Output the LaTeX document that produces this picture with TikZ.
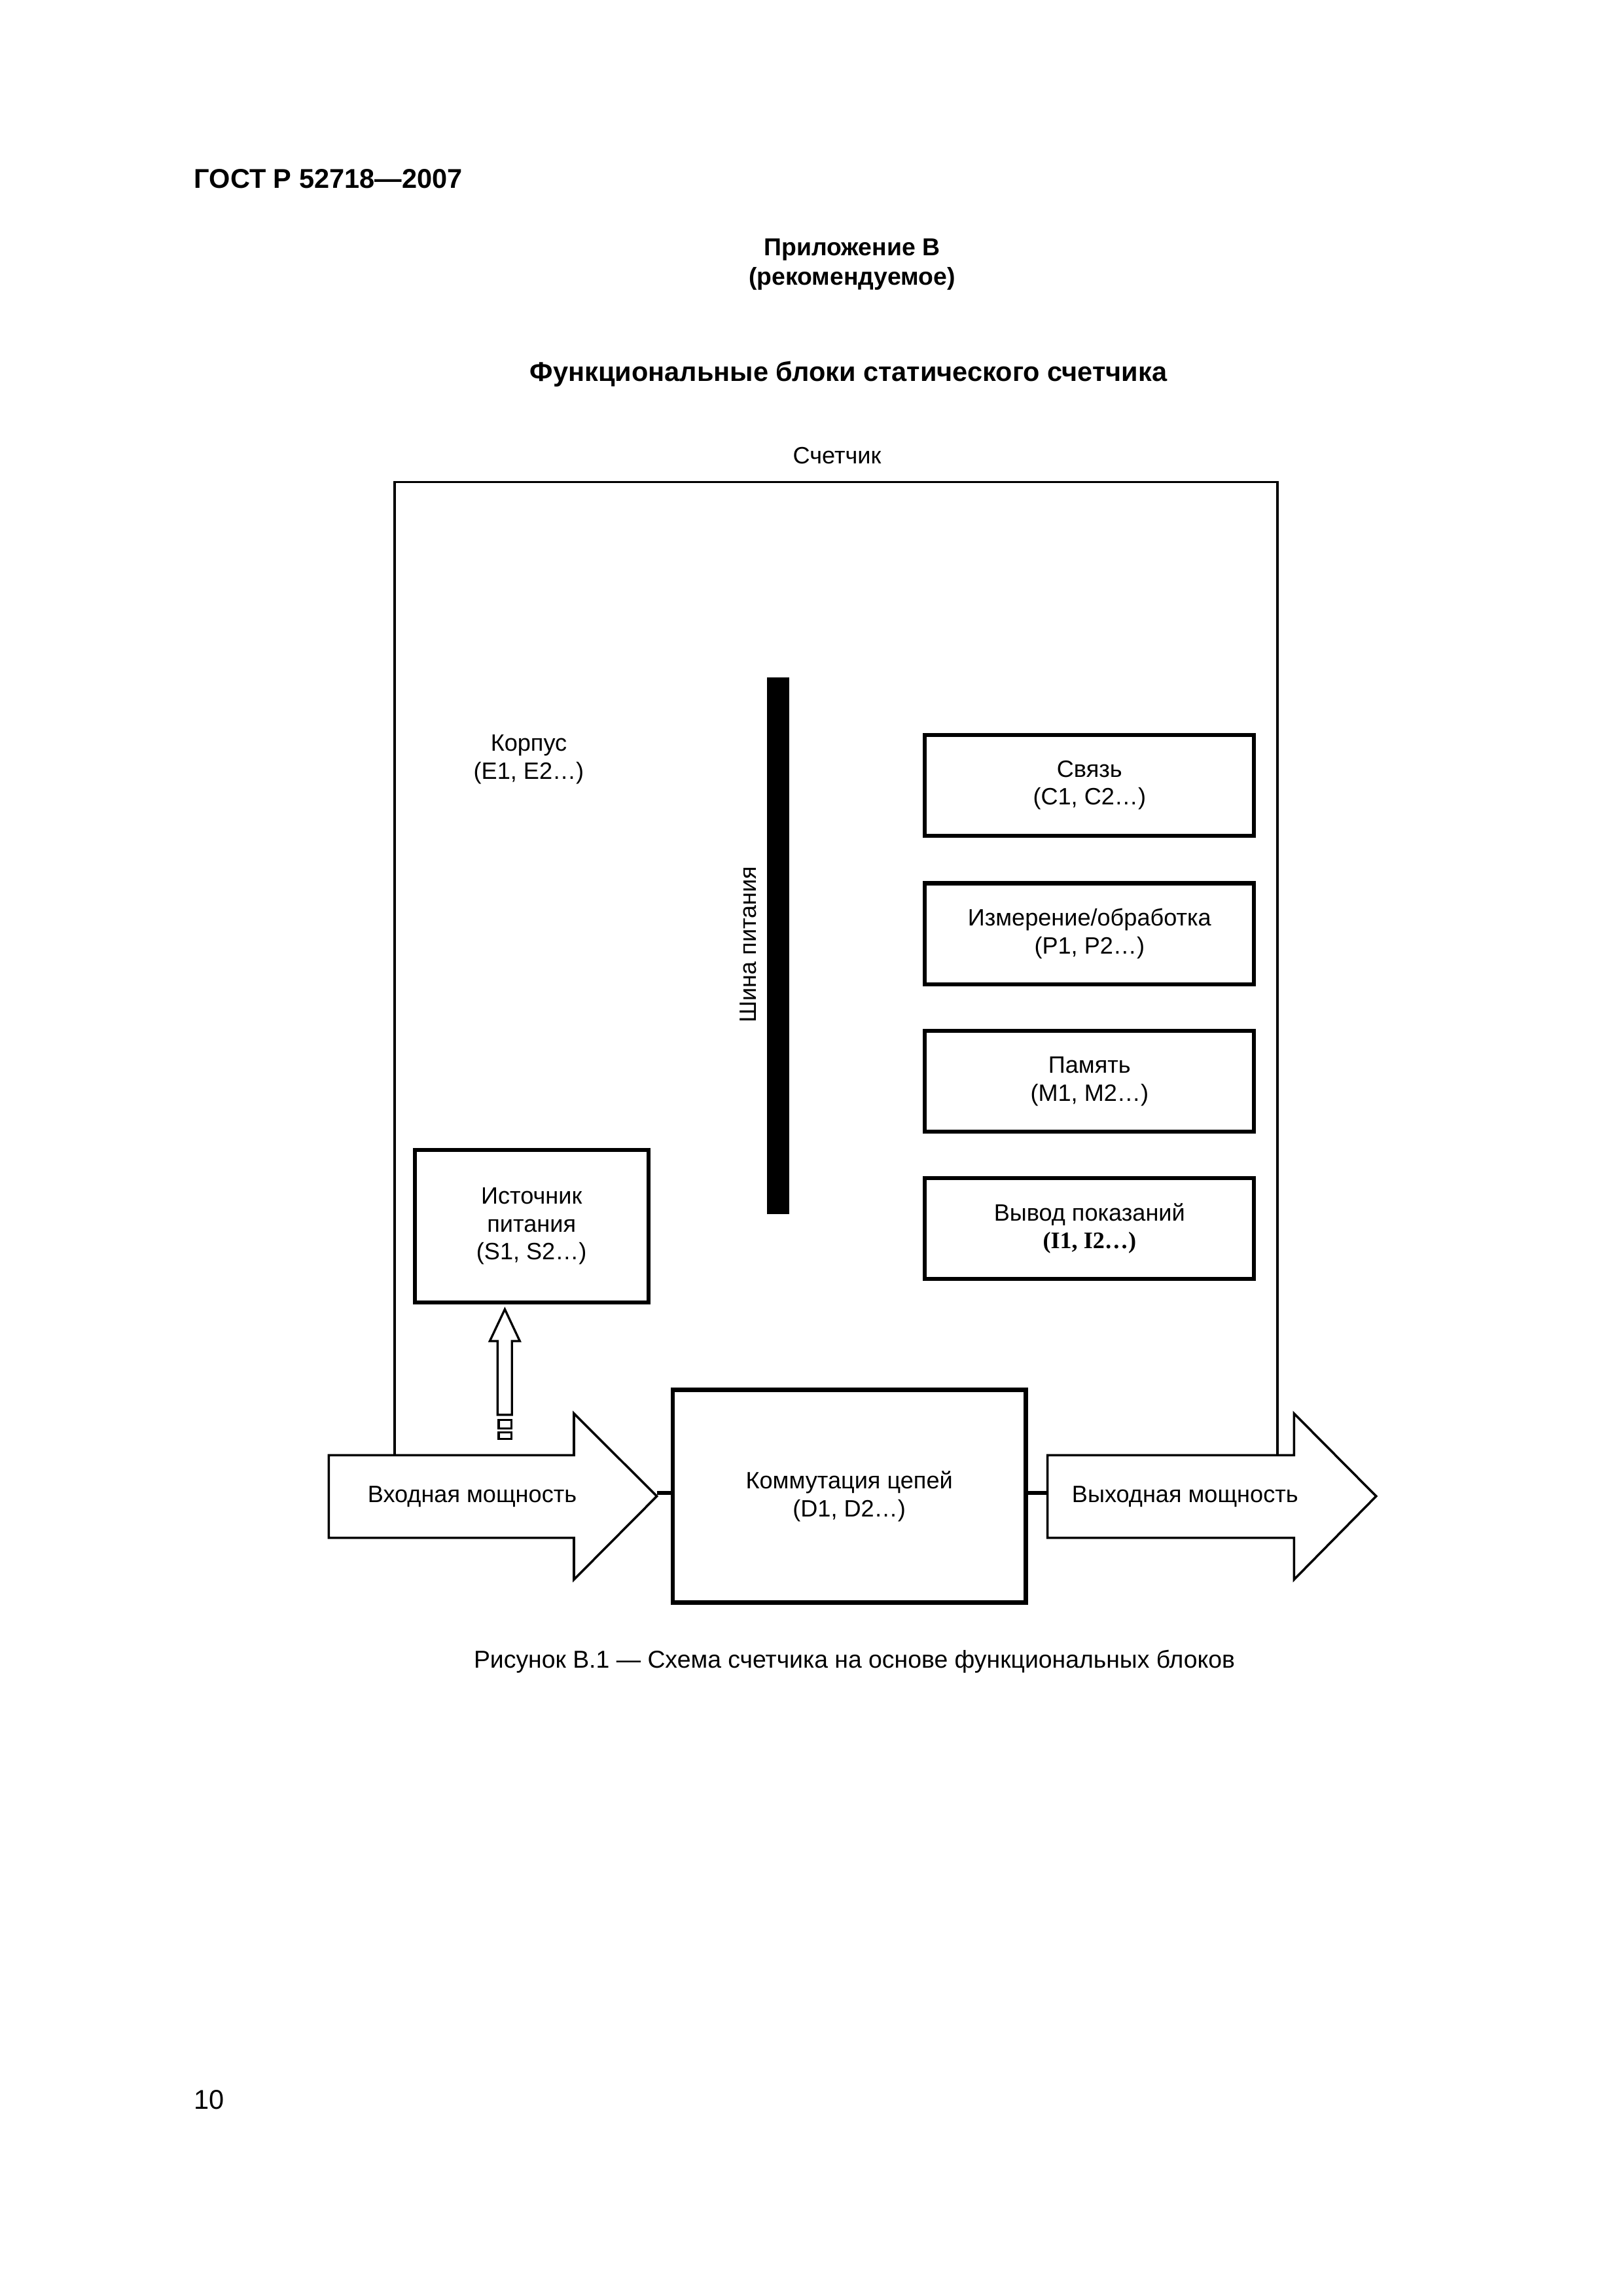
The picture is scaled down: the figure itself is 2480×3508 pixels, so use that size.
\documentclass[tikz,border=0pt]{standalone}
\usepackage{fontspec}
\setmainfont{Liberation Sans}
\newfontfamily\seriffont{Liberation Serif}
\begin{document}
\begin{tikzpicture}[x=0.084677mm,y=-0.084677mm,
  lbl/.style={font=\fontsize{8.7}{10.3}\selectfont, align=center, inner sep=0pt},
  blk/.style={draw, line width=1.45pt, align=center, inner sep=0pt, fill=white,
              font=\fontsize{8.7}{10.3}\selectfont},
  rblk/.style={blk, minimum width=42.61mm, minimum height=13.06mm},
  thin/.style={line width=0.8pt},
  stub/.style={line width=1.5pt},
  bigarrow/.style={draw, line width=0.85pt, fill=white, line join=miter}]
\useasboundingbox (0,0) rectangle (2480,3508);

% header texts
\node[anchor=base west, inner sep=0pt, font=\bfseries\fontsize{10}{12}\selectfont] (hdr) at (296,287) {ГОСТ Р 52718—2007};
\node[anchor=base, inner sep=0pt, font=\bfseries\fontsize{9}{11}\selectfont] (app) at (1302,390) {Приложение В};
\node[anchor=base, inner sep=0pt, font=\bfseries\fontsize{9}{11}\selectfont] (rec) at (1302,435) {(рекомендуемое)};
\node[anchor=base, inner sep=0pt, font=\bfseries\fontsize{10}{12}\selectfont] (ttl) at (1296.5,582) {Функциональные блоки статического счетчика};
\node[anchor=base, lbl] (meter) at (1279,708.6) {Счетчик};

% outer frame of the meter
\coordinate (fl) at (603,2223.3);
\coordinate (fr) at (1952,2223.3);
\draw[thin] (fl) -- (603,736.5) -- (1952,736.5) -- (fr);

% case label
\node[lbl] (case) at (808,1160) {Корпус\\(E1, E2…)};

% power bus
\node[fill=black, inner sep=0pt, minimum width=2.87mm, minimum height=69.43mm] (bus) at (1189,1445) {};
\node[lbl, rotate=90] (buslbl) at (1143,1443) {Шина питания};

% right blocks
\node[rblk] (comm) at (1664.8,1199.7) {Связь\\(C1, C2…)};
\node[rblk] (meas) at (1664.8,1426.6) {Измерение/обработка\\(P1, P2…)};
\node[rblk] (mem)  at (1664.8,1652)   {Память\\(M1, M2…)};
\node[rblk] (disp) at (1664.8,1877)   {Вывод показаний\\{\seriffont\bfseries (I1, I2…)}};

% power supply
\node[blk, minimum width=30.21mm, minimum height=19.80mm] (ps) at (812.2,1873.5) {Источник\\питания\\(S1, S2…)};

% switching block
\node[blk, line width=1.6pt, minimum width=45.65mm, minimum height=27.56mm] (sw) at (1297.6,2286) {Коммутация цепей\\(D1, D2…)};

% input power arrow
\draw[bigarrow] (502.3,2223.3) -- (877,2223.3) -- (877,2159.6) -- (1003.6,2286) -- (877,2413.4) -- (877,2349.7) -- (502.3,2349.7) -- cycle;
\coordinate (intip) at (1003.6,2281);
\node[lbl] (inlbl) at (721.5,2287) {Входная мощность};

% output power arrow
\draw[bigarrow] (1600.5,2223.3) -- (1977.3,2223.3) -- (1977.3,2159.6) -- (2102.8,2286) -- (1977.3,2413.4) -- (1977.3,2349.7) -- (1600.5,2349.7) -- cycle;
\coordinate (outtail) at (1600.5,2281);
\node[lbl] (outlbl) at (1810.8,2287) {Выходная мощность};

% stubs
\draw[stub] (intip) -- (intip -| sw.west);
\draw[stub] (outtail -| sw.east) -- (outtail);

% hollow up arrow to power supply
\coordinate (uptip) at (771.4,2000.4);
\draw[thin, line join=miter] (uptip) -- (794.3,2049) -- (782.3,2049) -- (782.3,2161.6) -- (760.4,2161.6) -- (760.4,2049) -- (748.4,2049) -- cycle;
\draw[thin] (761.9,2169.5) rectangle (781.8,2182.5);
\draw[thin] (761.9,2188.4) rectangle (781.8,2198.4);

% caption and page number
\node[anchor=base, inner sep=0pt, font=\fontsize{9}{11}\selectfont] (cap) at (1305.5,2548.7) {Рисунок В.1 — Схема счетчика на основе функциональных блоков};
\node[anchor=base west, inner sep=0pt, font=\fontsize{10}{12}\selectfont] (pg) at (296,3222.5) {10};
\end{tikzpicture}
\end{document}
